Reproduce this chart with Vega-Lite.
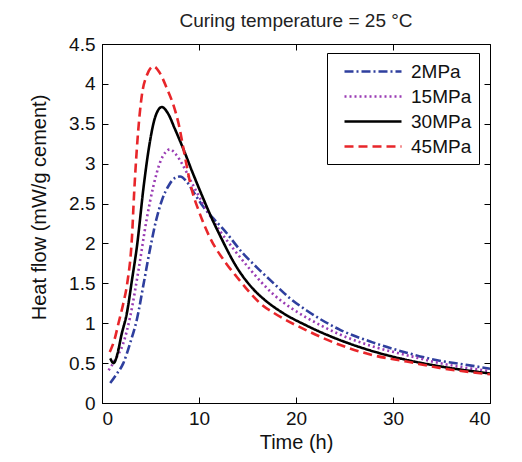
{
  "$schema": "https://vega.github.io/schema/vega-lite/v6.json",
  "width": 388,
  "height": 359,
  "autosize": {"type": "none"},
  "padding": {"left": 102, "top": 44, "right": 32, "bottom": 59},
  "background": "white",
  "title": {"text": "Curing temperature = 25 °C", "fontSize": 19, "fontWeight": "normal", "font": "Liberation Sans", "color": "#222", "offset": 4},
  "data": {"values": [
    {"t": 0.85, "hf": 0.25, "s": "2MPa"}, {"t": 1.5, "hf": 0.36, "s": "2MPa"}, {"t": 2.2, "hf": 0.5, "s": "2MPa"}, {"t": 2.9, "hf": 0.75, "s": "2MPa"}, {"t": 3.6, "hf": 1.05, "s": "2MPa"}, {"t": 4.3, "hf": 1.5, "s": "2MPa"}, {"t": 5.0, "hf": 1.96, "s": "2MPa"}, {"t": 5.6, "hf": 2.3, "s": "2MPa"}, {"t": 6.2, "hf": 2.55, "s": "2MPa"}, {"t": 6.9, "hf": 2.73, "s": "2MPa"}, {"t": 7.5, "hf": 2.82, "s": "2MPa"}, {"t": 8.05, "hf": 2.84, "s": "2MPa"}, {"t": 8.7, "hf": 2.78, "s": "2MPa"}, {"t": 9.3, "hf": 2.67, "s": "2MPa"}, {"t": 10.5, "hf": 2.45, "s": "2MPa"}, {"t": 11.5, "hf": 2.31, "s": "2MPa"}, {"t": 12.5, "hf": 2.18, "s": "2MPa"}, {"t": 14.5, "hf": 1.88, "s": "2MPa"}, {"t": 16.3, "hf": 1.66, "s": "2MPa"}, {"t": 17.7, "hf": 1.5, "s": "2MPa"}, {"t": 19.4, "hf": 1.31, "s": "2MPa"}, {"t": 21.1, "hf": 1.16, "s": "2MPa"}, {"t": 24.5, "hf": 0.92, "s": "2MPa"}, {"t": 27.9, "hf": 0.76, "s": "2MPa"}, {"t": 31.4, "hf": 0.63, "s": "2MPa"}, {"t": 34.8, "hf": 0.53, "s": "2MPa"}, {"t": 37.5, "hf": 0.48, "s": "2MPa"}, {"t": 40, "hf": 0.43, "s": "2MPa"},
    {"t": 0.68, "hf": 0.41, "s": "15MPa"}, {"t": 1.4, "hf": 0.55, "s": "15MPa"}, {"t": 2.2, "hf": 0.75, "s": "15MPa"}, {"t": 2.9, "hf": 1.08, "s": "15MPa"}, {"t": 3.77, "hf": 1.67, "s": "15MPa"}, {"t": 4.6, "hf": 2.3, "s": "15MPa"}, {"t": 5.3, "hf": 2.72, "s": "15MPa"}, {"t": 6.0, "hf": 3.02, "s": "15MPa"}, {"t": 6.6, "hf": 3.15, "s": "15MPa"}, {"t": 7.0, "hf": 3.18, "s": "15MPa"}, {"t": 7.6, "hf": 3.12, "s": "15MPa"}, {"t": 8.2, "hf": 3.01, "s": "15MPa"}, {"t": 9.26, "hf": 2.76, "s": "15MPa"}, {"t": 10.4, "hf": 2.5, "s": "15MPa"}, {"t": 12.2, "hf": 2.15, "s": "15MPa"}, {"t": 13.5, "hf": 1.94, "s": "15MPa"}, {"t": 15.3, "hf": 1.67, "s": "15MPa"}, {"t": 17.6, "hf": 1.37, "s": "15MPa"}, {"t": 19.5, "hf": 1.19, "s": "15MPa"}, {"t": 21.1, "hf": 1.07, "s": "15MPa"}, {"t": 24.5, "hf": 0.86, "s": "15MPa"}, {"t": 27.9, "hf": 0.71, "s": "15MPa"}, {"t": 31.4, "hf": 0.6, "s": "15MPa"}, {"t": 34.8, "hf": 0.5, "s": "15MPa"}, {"t": 40, "hf": 0.4, "s": "15MPa"},
    {"t": 0.85, "hf": 0.56, "s": "30MPa"}, {"t": 1.2, "hf": 0.5, "s": "30MPa"}, {"t": 1.6, "hf": 0.62, "s": "30MPa"}, {"t": 2.0, "hf": 0.85, "s": "30MPa"}, {"t": 2.57, "hf": 1.13, "s": "30MPa"}, {"t": 3.1, "hf": 1.55, "s": "30MPa"}, {"t": 3.6, "hf": 1.96, "s": "30MPa"}, {"t": 4.3, "hf": 2.72, "s": "30MPa"}, {"t": 4.8, "hf": 3.17, "s": "30MPa"}, {"t": 5.5, "hf": 3.59, "s": "30MPa"}, {"t": 6.17, "hf": 3.71, "s": "30MPa"}, {"t": 6.8, "hf": 3.63, "s": "30MPa"}, {"t": 7.5, "hf": 3.44, "s": "30MPa"}, {"t": 8.4, "hf": 3.18, "s": "30MPa"}, {"t": 9.3, "hf": 2.9, "s": "30MPa"}, {"t": 10.45, "hf": 2.56, "s": "30MPa"}, {"t": 11.3, "hf": 2.32, "s": "30MPa"}, {"t": 12.2, "hf": 2.09, "s": "30MPa"}, {"t": 13.9, "hf": 1.7, "s": "30MPa"}, {"t": 15.5, "hf": 1.44, "s": "30MPa"}, {"t": 17.0, "hf": 1.27, "s": "30MPa"}, {"t": 18.5, "hf": 1.14, "s": "30MPa"}, {"t": 21.1, "hf": 0.97, "s": "30MPa"}, {"t": 24.5, "hf": 0.79, "s": "30MPa"}, {"t": 27.9, "hf": 0.65, "s": "30MPa"}, {"t": 31.4, "hf": 0.54, "s": "30MPa"}, {"t": 34.8, "hf": 0.46, "s": "30MPa"}, {"t": 40, "hf": 0.37, "s": "30MPa"},
    {"t": 0.8, "hf": 0.64, "s": "45MPa"}, {"t": 1.3, "hf": 0.8, "s": "45MPa"}, {"t": 1.7, "hf": 1.0, "s": "45MPa"}, {"t": 2.2, "hf": 1.25, "s": "45MPa"}, {"t": 2.6, "hf": 1.5, "s": "45MPa"}, {"t": 3.1, "hf": 2.1, "s": "45MPa"}, {"t": 3.3, "hf": 2.6, "s": "45MPa"}, {"t": 3.6, "hf": 3.2, "s": "45MPa"}, {"t": 4.1, "hf": 3.85, "s": "45MPa"}, {"t": 4.6, "hf": 4.1, "s": "45MPa"}, {"t": 5.3, "hf": 4.22, "s": "45MPa"}, {"t": 5.9, "hf": 4.15, "s": "45MPa"}, {"t": 6.7, "hf": 3.94, "s": "45MPa"}, {"t": 7.4, "hf": 3.72, "s": "45MPa"}, {"t": 7.9, "hf": 3.5, "s": "45MPa"}, {"t": 8.5, "hf": 3.12, "s": "45MPa"}, {"t": 9.2, "hf": 2.7, "s": "45MPa"}, {"t": 10.0, "hf": 2.4, "s": "45MPa"}, {"t": 11.1, "hf": 2.08, "s": "45MPa"}, {"t": 12.8, "hf": 1.75, "s": "45MPa"}, {"t": 13.9, "hf": 1.58, "s": "45MPa"}, {"t": 16.6, "hf": 1.22, "s": "45MPa"}, {"t": 17.7, "hf": 1.13, "s": "45MPa"}, {"t": 21.1, "hf": 0.91, "s": "45MPa"}, {"t": 24.5, "hf": 0.73, "s": "45MPa"}, {"t": 27.9, "hf": 0.6, "s": "45MPa"}, {"t": 31.4, "hf": 0.52, "s": "45MPa"}, {"t": 34.8, "hf": 0.44, "s": "45MPa"}, {"t": 40, "hf": 0.36, "s": "45MPa"}
  ]},
  "layer": [
    {
      "mark": {"type": "line", "strokeWidth": 2.6, "interpolate": "monotone", "clip": true},
      "encoding": {
        "x": {"field": "t", "type": "quantitative", "scale": {"domain": [0, 40], "nice": false},
              "axis": {"values": [0, 10, 20, 30, 40], "title": "Time (h)", "titlePadding": 4, "ticks": false, "labelPadding": 6}},
        "y": {"field": "hf", "type": "quantitative", "scale": {"domain": [0, 4.5], "nice": false},
              "axis": {"values": [0, 0.5, 1, 1.5, 2, 2.5, 3, 3.5, 4, 4.5], "format": "~g", "title": "Heat flow (mW/g cement)", "titlePadding": 19, "titleY": 163, "ticks": false, "labelPadding": 7}},
        "color": {"field": "s", "type": "nominal", "title": null,
                  "scale": {"domain": ["2MPa", "15MPa", "30MPa", "45MPa"], "range": ["#2f3f9e", "#9a3cb4", "#000000", "#e8262a"]}},
        "strokeDash": {"field": "s", "type": "nominal", "title": null,
                  "scale": {"domain": ["2MPa", "15MPa", "30MPa", "45MPa"], "range": [[9, 3, 2, 3], [2, 3], [1, 0], [9, 5]]}}
      }
    },
    {
      "mark": {"type": "line", "strokeOpacity": 0},
      "encoding": {
        "x": {"field": "t", "type": "quantitative", "scale": {"domain": [0, 40], "nice": false},
              "axis": {"orient": "top", "offset": -359, "values": [0, 10, 20, 30, 40], "labels": false, "title": null, "domain": false, "tickSize": 6}},
        "y": {"field": "hf", "type": "quantitative", "scale": {"domain": [0, 4.5], "nice": false},
              "axis": {"orient": "right", "offset": -388, "values": [0, 0.5, 1, 1.5, 2, 2.5, 3, 3.5, 4, 4.5], "labels": false, "title": null, "domain": false, "tickSize": 6}}
      }
    },
    {
      "mark": {"type": "line", "strokeOpacity": 0},
      "encoding": {
        "x": {"field": "t", "type": "quantitative", "scale": {"domain": [0, 40], "nice": false},
              "axis": {"orient": "bottom", "offset": -359, "values": [0, 10, 20, 30, 40], "labels": false, "title": null, "domain": false, "tickSize": 6}},
        "y": {"field": "hf", "type": "quantitative", "scale": {"domain": [0, 4.5], "nice": false},
              "axis": {"orient": "left", "offset": -388, "values": [0, 0.5, 1, 1.5, 2, 2.5, 3, 3.5, 4, 4.5], "labels": false, "title": null, "domain": false, "tickSize": 6}}
      }
    }
  ],
  "resolve": {"axis": {"x": "independent", "y": "independent"}},
  "config": {
    "view": {"stroke": "#000", "strokeWidth": 1},
    "font": "Liberation Sans",
    "axis": {
      "grid": false, "domainColor": "#000", "tickColor": "#000", "tickWidth": 1,
      "labelFont": "Liberation Sans", "labelFontSize": 19, "labelColor": "#111",
      "titleFont": "Liberation Sans", "titleFontSize": 20, "titleFontWeight": "normal", "titleColor": "#111"
    },
    "legend": {
      "orient": "none", "legendX": 225, "legendY": 9, "direction": "vertical",
      "symbolType": "M-0.1,0H5.6", "symbolSize": 400, "symbolStrokeWidth": 2.6,
      "labelFont": "Liberation Sans", "labelFontSize": 19, "labelColor": "#111", "labelOffset": 54,
      "rowPadding": 3, "padding": 7, "fillColor": "white", "strokeColor": "#000"
    }
  }
}
